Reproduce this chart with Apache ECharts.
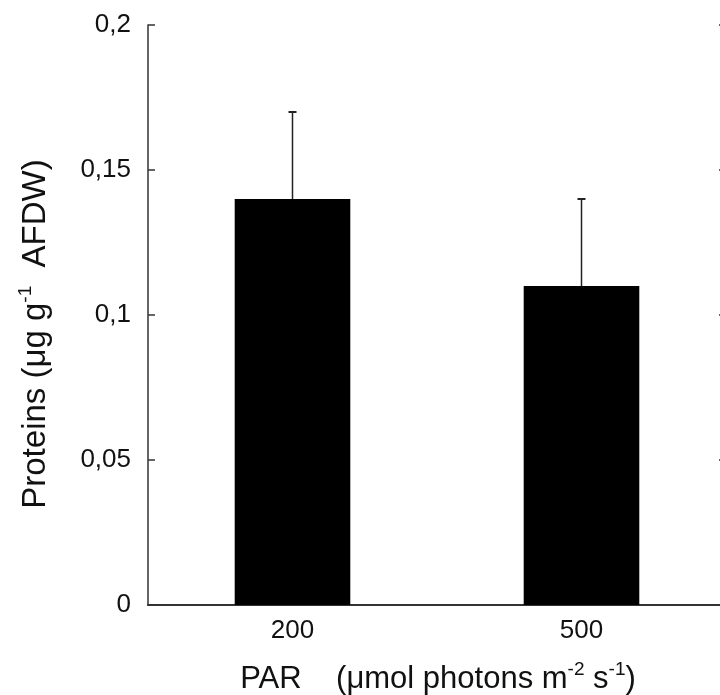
<!DOCTYPE html>
<html>
<head>
<meta charset="utf-8">
<script src="https://cdn.jsdelivr.net/npm/echarts@6/dist/echarts.min.js"></script>
<style>
  html, body { margin: 0; background: #fff; }
  #chart { width: 720px; height: 695px; }
</style>
</head>
<body>
<div id="chart"></div>
<script>
// PAR levels and protein content
var categories = ['200', '500'];
var proteins = [0.14, 0.11];
var errors = [0.03, 0.03];
var yTicks = ['0', '0,05', '0,1', '0,15', '0,2'];

var font = "'Liberation Sans', Arial, sans-serif";
var axisColor = '#333';

var errData = proteins.map(function (v, i) { return [i, v, v + errors[i]]; });

var chart = echarts.init(document.getElementById('chart'));
chart.setOption({
    animation: false,
    grid: { left: 148, right: -6, top: 25, bottom: 90, outerBoundsMode: 'none', containLabel: false },
    xAxis: [
        {
            type: 'category',
            data: categories,
            axisLine: { lineStyle: { color: axisColor, width: 1.5 } },
            axisTick: { show: false },
            axisLabel: { color: '#111', fontSize: 26, fontFamily: font, margin: 13 }
        },
        {
            type: 'category',
            position: 'top',
            data: categories,
            axisLine: { show: true, lineStyle: { color: axisColor, width: 2 } },
            axisTick: { show: false },
            axisLabel: { show: false }
        }
    ],
    yAxis: [
        {
            type: 'value',
            position: 'left',
            min: 0, max: 0.2, interval: 0.05,
            axisLine: { show: true, lineStyle: { color: axisColor, width: 1.5 } },
            axisTick: { show: false },
            splitLine: { show: false },
            axisLabel: {
                color: '#111', fontSize: 26, fontFamily: font, margin: 17,
                formatter: function (v) { return yTicks[Math.round(v / 0.05)]; }
            }
        },
        {
            type: 'value',
            position: 'right',
            min: 0, max: 0.2, interval: 0.05,
            axisLine: { show: true, lineStyle: { color: axisColor, width: 1.5 } },
            axisTick: { show: true, inside: true, length: 7, lineStyle: { color: axisColor, width: 1.5 } },
            splitLine: { show: false },
            axisLabel: { show: false }
        },
        {
            // ticks for the left edge, pointing into the plot
            type: 'value',
            position: 'right',
            offset: -578,
            min: 0, max: 0.2, interval: 0.05,
            axisLine: { show: false },
            axisTick: { show: true, inside: false, length: 7, lineStyle: { color: axisColor, width: 1.5 } },
            splitLine: { show: false },
            axisLabel: { show: false }
        }
    ],
    series: [
        {
            type: 'bar',
            data: proteins,
            barWidth: '40%',
            itemStyle: { color: '#000' },
            z: 2
        },
        {
            type: 'custom',
            data: errData,
            z: 1,
            renderItem: function (params, api) {
                var base = api.coord([api.value(0), api.value(1)]);
                var top = api.coord([api.value(0), api.value(2)]);
                var half = 4;
                return {
                    type: 'group',
                    children: [
                        { type: 'line', shape: { x1: base[0], y1: base[1], x2: top[0], y2: top[1] },
                          style: { stroke: '#222', lineWidth: 1.5 } },
                        { type: 'line', shape: { x1: top[0] - half, y1: top[1], x2: top[0] + half, y2: top[1] },
                          style: { stroke: '#222', lineWidth: 2 } }
                    ]
                };
            }
        }
    ],
    graphic: [
        {
            type: 'text',
            x: 36, y: 334,
            rotation: Math.PI / 2,
            style: {
                text: 'Proteins (μg g{sup|-1}  AFDW)',
                fill: '#111',
                font: '33px ' + font,
                align: 'center',
                verticalAlign: 'middle',
                rich: {
                    sup: { fontSize: 19, fontFamily: font, verticalAlign: 'top', lineHeight: 40, fill: '#111' }
                }
            }
        },
        {
            type: 'text',
            x: 438, y: 679,
            style: {
                text: 'PAR    (μmol photons m{sup|-2} s{sup|-1})',
                fill: '#111',
                font: '31px ' + font,
                align: 'center',
                verticalAlign: 'middle',
                rich: {
                    sup: { fontSize: 19, fontFamily: font, verticalAlign: 'top', lineHeight: 38, fill: '#111' }
                }
            }
        }
    ]
});
</script>
</body>
</html>
